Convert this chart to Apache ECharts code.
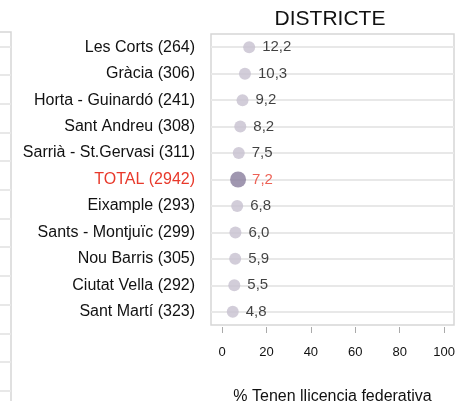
<!DOCTYPE html>
<html>
<head>
<meta charset="utf-8">
<script src="https://cdn.jsdelivr.net/npm/echarts@6/dist/echarts.min.js"></script>
<style>
  html, body { margin: 0; padding: 0; background: #ffffff; }
  #chart { width: 456px; height: 401px; }
</style>
</head>
<body>
<div id="chart"></div>
<script>
// Districts (with sample size) ordered from highest to lowest share
const districts = [
  'Les Corts (264)', 'Gràcia (306)', 'Horta - Guinardó (241)', 'Sant Andreu (308)',
  'Sarrià - St.Gervasi (311)', 'TOTAL (2942)', 'Eixample (293)', 'Sants - Montjuïc (299)',
  'Nou Barris (305)', 'Ciutat Vella (292)', 'Sant Martí (323)'
];
// % with a federative licence
const pctLicence = [12.2, 10.3, 9.2, 8.2, 7.5, 7.2, 6.8, 6.0, 5.9, 5.5, 4.8];
const totalLabel = 'TOTAL (2942)';
const xTicks = [0, 20, 40, 60, 80, 100];
// rows of the neighbouring panel on the left edge
const sideRows = ['', '', '', '', '', '', '', '', '', '', '', '', ''];

const RED = '#e8392b';
const DOT = '#c7c1cf';
const DOT_TOTAL = '#887d9c';
const GRIDLINE = '#e8e8e8';
const FRAME = '#d6d6d6';
const FONT = 'Liberation Sans, Arial, sans-serif';

const fmt = v => v.toFixed(1).replace('.', ',');

const chart = echarts.init(document.getElementById('chart'), null, { renderer: 'canvas' });

const catData = districts.map(name => name === totalLabel
  ? { value: name, textStyle: { color: RED } }
  : name);

const pointData = districts.map((name, i) => {
  const isTotal = name === totalLabel;
  return {
    value: [pctLicence[i], name],
    symbolSize: isTotal ? 16 : 12,
    itemStyle: { color: isTotal ? DOT_TOTAL : DOT },
    label: {
      color: isTotal ? RED : '#111',
      distance: isTotal ? 6 : 7
    }
  };
});

chart.setOption({
  animation: false,
  backgroundColor: '#ffffff',
  title: {
    text: 'DISTRICTE',
    left: 325,
    top: 4,
    textAlign: 'center',
    textStyle: { fontFamily: FONT, fontSize: 21, fontWeight: 'normal', color: '#111' }
  },
  grid: [
    { left: 211, right: 2, top: 34, bottom: 76, show: true, borderColor: FRAME, borderWidth: 1.5, outerBoundsMode: 'none' },
    { left: -100, width: 111, top: 32, bottom: -4, show: true, borderColor: FRAME, borderWidth: 1.5, outerBoundsMode: 'none' }
  ],
  xAxis: [
    {
      gridIndex: 0,
      type: 'value',
      min: -5,
      max: 104.5,
      offset: 2,
      axisLine: { show: false },
      axisTick: { show: true, length: 6, customValues: xTicks, lineStyle: { color: '#aaaaaa', width: 1 } },
      axisLabel: { customValues: xTicks, margin: 19, fontFamily: FONT, fontSize: 13, color: '#111' },
      splitLine: { show: false },
      name: '% Tenen llicencia federativa',
      nameLocation: 'middle',
      nameGap: 62,
      nameTextStyle: { fontFamily: FONT, fontSize: 16, color: '#111' }
    },
    {
      gridIndex: 1,
      type: 'value',
      min: 0,
      max: 1,
      show: false
    }
  ],
  yAxis: [
    {
      gridIndex: 0,
      type: 'category',
      inverse: true,
      data: catData,
      axisLine: { show: false },
      axisTick: { show: false },
      axisLabel: { margin: 16, fontFamily: FONT, fontSize: 16, color: '#111' },
      splitLine: { show: true, alignWithLabel: true, lineStyle: { color: GRIDLINE, width: 2 } }
    },
    {
      gridIndex: 1,
      type: 'category',
      data: sideRows,
      axisLine: { show: false },
      axisTick: { show: false },
      axisLabel: { show: false },
      splitLine: { show: true, alignWithLabel: true, lineStyle: { color: GRIDLINE, width: 2 } }
    }
  ],
  series: [
    {
      type: 'scatter',
      xAxisIndex: 0,
      yAxisIndex: 0,
      symbol: 'circle',
      data: pointData,
      label: {
        show: true,
        position: 'right',
        fontFamily: FONT,
        fontSize: 15,
        formatter: p => fmt(p.value[0])
      },
      z: 3
    }
  ]
});
</script>
</body>
</html>
